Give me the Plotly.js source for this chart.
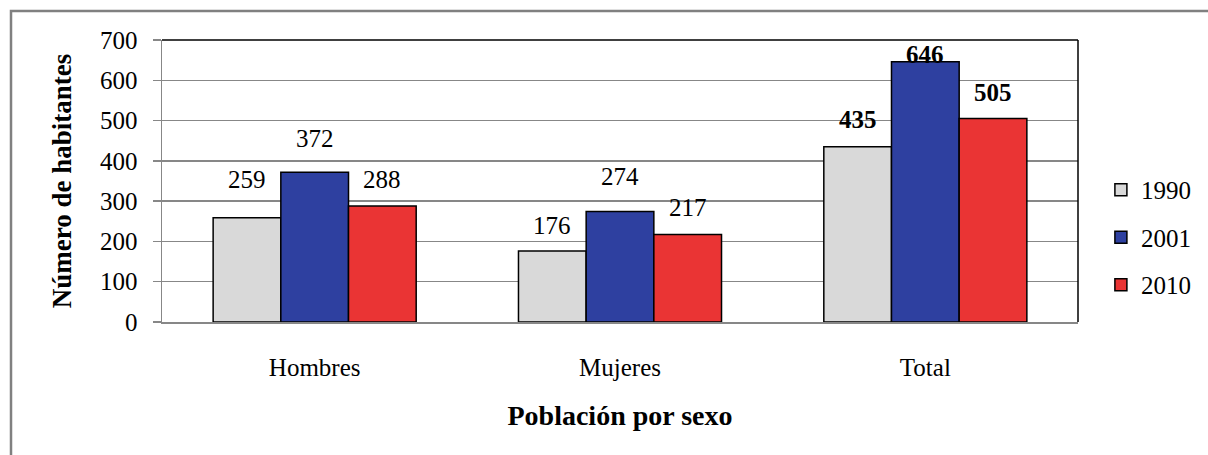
<!DOCTYPE html>
<html>
<head>
<meta charset="utf-8">
<script src="https://cdn.plot.ly/plotly-3.0.1.min.js"></script>
<style>
  html, body { margin: 0; padding: 0; background: #fff; overflow: hidden; }
  #chart { width: 1208px; height: 455px; }
</style>
</head>
<body>
<div id="chart"></div>
<script>
// ---- Data ----
const categories = ['Hombres', 'Mujeres', 'Total'];
const seriesNames = ['1990', '2001', '2010'];
const values1990 = [259, 176, 435];
const values2001 = [372, 274, 646];
const values2010 = [288, 217, 505];
const yTicks = [0, 100, 200, 300, 400, 500, 600, 700];

// ---- Styles / layout constants ----
const seriesValues = [values1990, values2001, values2010];
const colors = ['#D9D9D9', '#2E40A0', '#EA3434'];
const FONT = 'Liberation Serif';
const W = 1208, H = 455;
const M = { l: 162, r: 130, t: 40, b: 133 };
const BARGAP = 0.335;
const plotW = W - M.l - M.r;
const barPx = plotW / categories.length * (1 - BARGAP) / seriesNames.length;
// label vertical offsets (px above bar top), per series then category
const labelShift = [[38, 26, 27], [34, 35, 7], [26, 27, 26]];

const traces = seriesNames.map((name, s) => ({
  type: 'bar',
  name: name,
  x: categories,
  y: seriesValues[s],
  legendgroup: name,
  marker: { color: colors[s], line: { color: '#000000', width: 1.5 } },
  hoverinfo: 'x+y+name'
}));

const annotations = [];
seriesValues.forEach((vals, s) => {
  vals.forEach((v, c) => {
    const bold = categories[c] === 'Total';
    annotations.push({
      x: categories[c], y: v, xref: 'x', yref: 'y',
      xshift: (s - 1) * barPx,
      yshift: labelShift[s][c],
      yanchor: 'middle', xanchor: 'center',
      showarrow: false,
      text: bold ? '<b>' + v + '</b>' : String(v),
      font: { family: FONT, size: 25, color: '#000' }
    });
  });
});

const layout = {
  width: W, height: H,
  margin: M,
  paper_bgcolor: '#fff', plot_bgcolor: '#fff',
  barmode: 'group', bargap: BARGAP, bargroupgap: 0,
  font: { family: FONT, size: 25, color: '#000' },
  showlegend: true,
  legend: {
    x: 1.025, xanchor: 'left', y: 0.55, yanchor: 'top',
    font: { family: FONT, size: 25, color: '#000' },
    traceorder: 'grouped', tracegroupgap: 12,
    bgcolor: 'rgba(0,0,0,0)'
  },
  xaxis: {
    type: 'category',
    showgrid: false,
    showline: true, linecolor: '#878787', linewidth: 1.5,
    ticks: '', ticklabelstandoff: 22,
    tickfont: { family: FONT, size: 25, color: '#000' },
    title: { text: '<b>Población por sexo</b>', font: { family: FONT, size: 28, color: '#000' }, standoff: 26 },
    fixedrange: true
  },
  yaxis: {
    range: [0, 700],
    tickvals: yTicks, ticktext: yTicks.map(String),
    showgrid: true, gridcolor: '#878787', gridwidth: 1.5,
    zeroline: false,
    showline: true, linecolor: '#878787', linewidth: 1.5,
    ticks: 'outside', ticklen: 8, tickcolor: '#878787', tickwidth: 1.5,
    ticklabelstandoff: 10,
    tickfont: { family: FONT, size: 25, color: '#000' },
    title: { text: '<b>Número de habitantes</b>', font: { family: FONT, size: 27, color: '#000' }, standoff: 20 },
    fixedrange: true
  },
  shapes: [
    { type: 'line', xref: 'paper', yref: 'paper', x0: 0, x1: 1, y0: 1, y1: 1, line: { color: '#000', width: 1.5 } },
    { type: 'line', xref: 'paper', yref: 'paper', x0: 1, x1: 1, y0: 0, y1: 1, line: { color: '#000', width: 1.5 } },
    { type: 'rect', xref: 'paper', yref: 'paper',
      x0: (11 - M.l) / plotW, x1: 1.5,
      y0: -1, y1: (H - M.b - 11) / (H - M.t - M.b),
      line: { color: '#808080', width: 2.5 }, fillcolor: 'rgba(0,0,0,0)', layer: 'below' }
  ],
  annotations: annotations
};

Plotly.newPlot('chart', traces, layout, { displayModeBar: false, staticPlot: true });
</script>
</body>
</html>
